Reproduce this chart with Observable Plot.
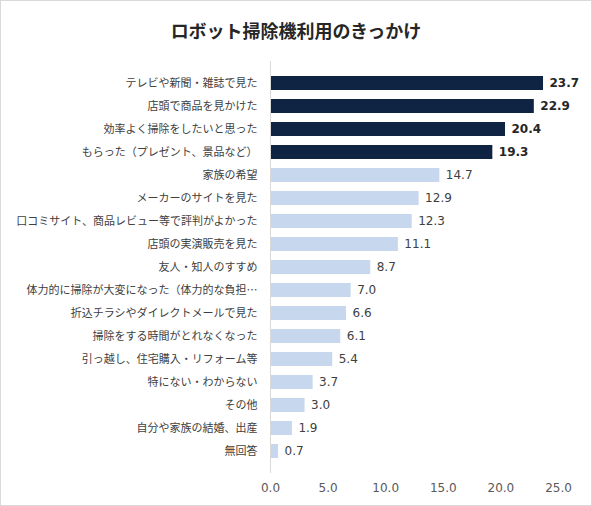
<!DOCTYPE html>
<html>
<head>
<meta charset="utf-8">
<script src="https://cdn.jsdelivr.net/npm/d3@7"></script>
<script src="https://cdn.jsdelivr.net/npm/@observablehq/plot@0.6"></script>
<style>
  body { margin: 0; background: #fff; }
  #frame { width: 590px; height: 504px; border: 1px solid #d9d9d9; background: #fff; }
  #title {
    height: 55px; line-height: 58px; text-align: center;
    font-family: "Noto Sans CJK JP", sans-serif; font-weight: bold; font-size: 18px; color: #262626;
  }
</style>
</head>
<body>
<div id="frame">
  <div id="title">ロボット掃除機利用のきっかけ</div>
  <div id="chart"></div>
</div>
<script>
// 回答項目（上から順に）
const categories = [
  "テレビや新聞・雑誌で見た",
  "店頭で商品を見かけた",
  "効率よく掃除をしたいと思った",
  "もらった（プレゼント、景品など）",
  "家族の希望",
  "メーカーのサイトを見た",
  "口コミサイト、商品レビュー等で評判がよかった",
  "店頭の実演販売を見た",
  "友人・知人のすすめ",
  "体力的に掃除が大変になった（体力的な負担…",
  "折込チラシやダイレクトメールで見た",
  "掃除をする時間がとれなくなった",
  "引っ越し、住宅購入・リフォーム等",
  "特にない・わからない",
  "その他",
  "自分や家族の結婚、出産",
  "無回答"
]
const values = [23.7, 22.9, 20.4, 19.3, 14.7, 12.9, 12.3, 11.1, 8.7, 7.0, 6.6, 6.1, 5.4, 3.7, 3.0, 1.9, 0.7]
const xTicks = [0, 5, 10, 15, 20, 25]

// 上位4項目は濃い色で強調
const data = categories.map((label, i) => ({label, value: values[i], group: i < 4 ? "top" : "rest"}))

const chart = Plot.plot({
  width: 590,
  height: 449,
  marginLeft: 269,
  marginRight: 33,
  marginTop: 5,
  marginBottom: 32,
  style: {fontFamily: "'Noto Sans CJK JP', sans-serif", background: "transparent"},
  x: {domain: [0, 25]},
  y: {domain: categories, padding: 0.37},
  color: {domain: ["top", "rest"], range: ["#0f2443", "#c6d7ee"]},
  marks: [
    Plot.barX(data, {x: "value", y: "label", fill: "group"}),
    Plot.ruleX([0], {stroke: "#d9d9d9"}),
    Plot.text(data.filter(d => d.group == "top"), {
      x: "value", y: "label", text: d => d.value.toFixed(1),
      dx: 6, textAnchor: "start", fontWeight: "bold", fontSize: 12,
      fontFamily: "DejaVu Sans", fill: "#262626"
    }),
    Plot.text(data.filter(d => d.group == "rest"), {
      x: "value", y: "label", text: d => d.value.toFixed(1),
      dx: 6, textAnchor: "start", fontSize: 12,
      fontFamily: "DejaVu Sans", fill: "#404040"
    }),
    Plot.axisY({tickSize: 0, tickPadding: 13, label: null, fontSize: 11, fill: "#404040"}),
    Plot.axisX({ticks: xTicks, tickFormat: d3.format(".1f"), tickSize: 0, tickPadding: 10,
      label: null, fontSize: 12, fontFamily: "DejaVu Sans", fill: "#595959"})
  ]
})

d3.select('#chart').append(() => chart)
</script>
</body>
</html>
